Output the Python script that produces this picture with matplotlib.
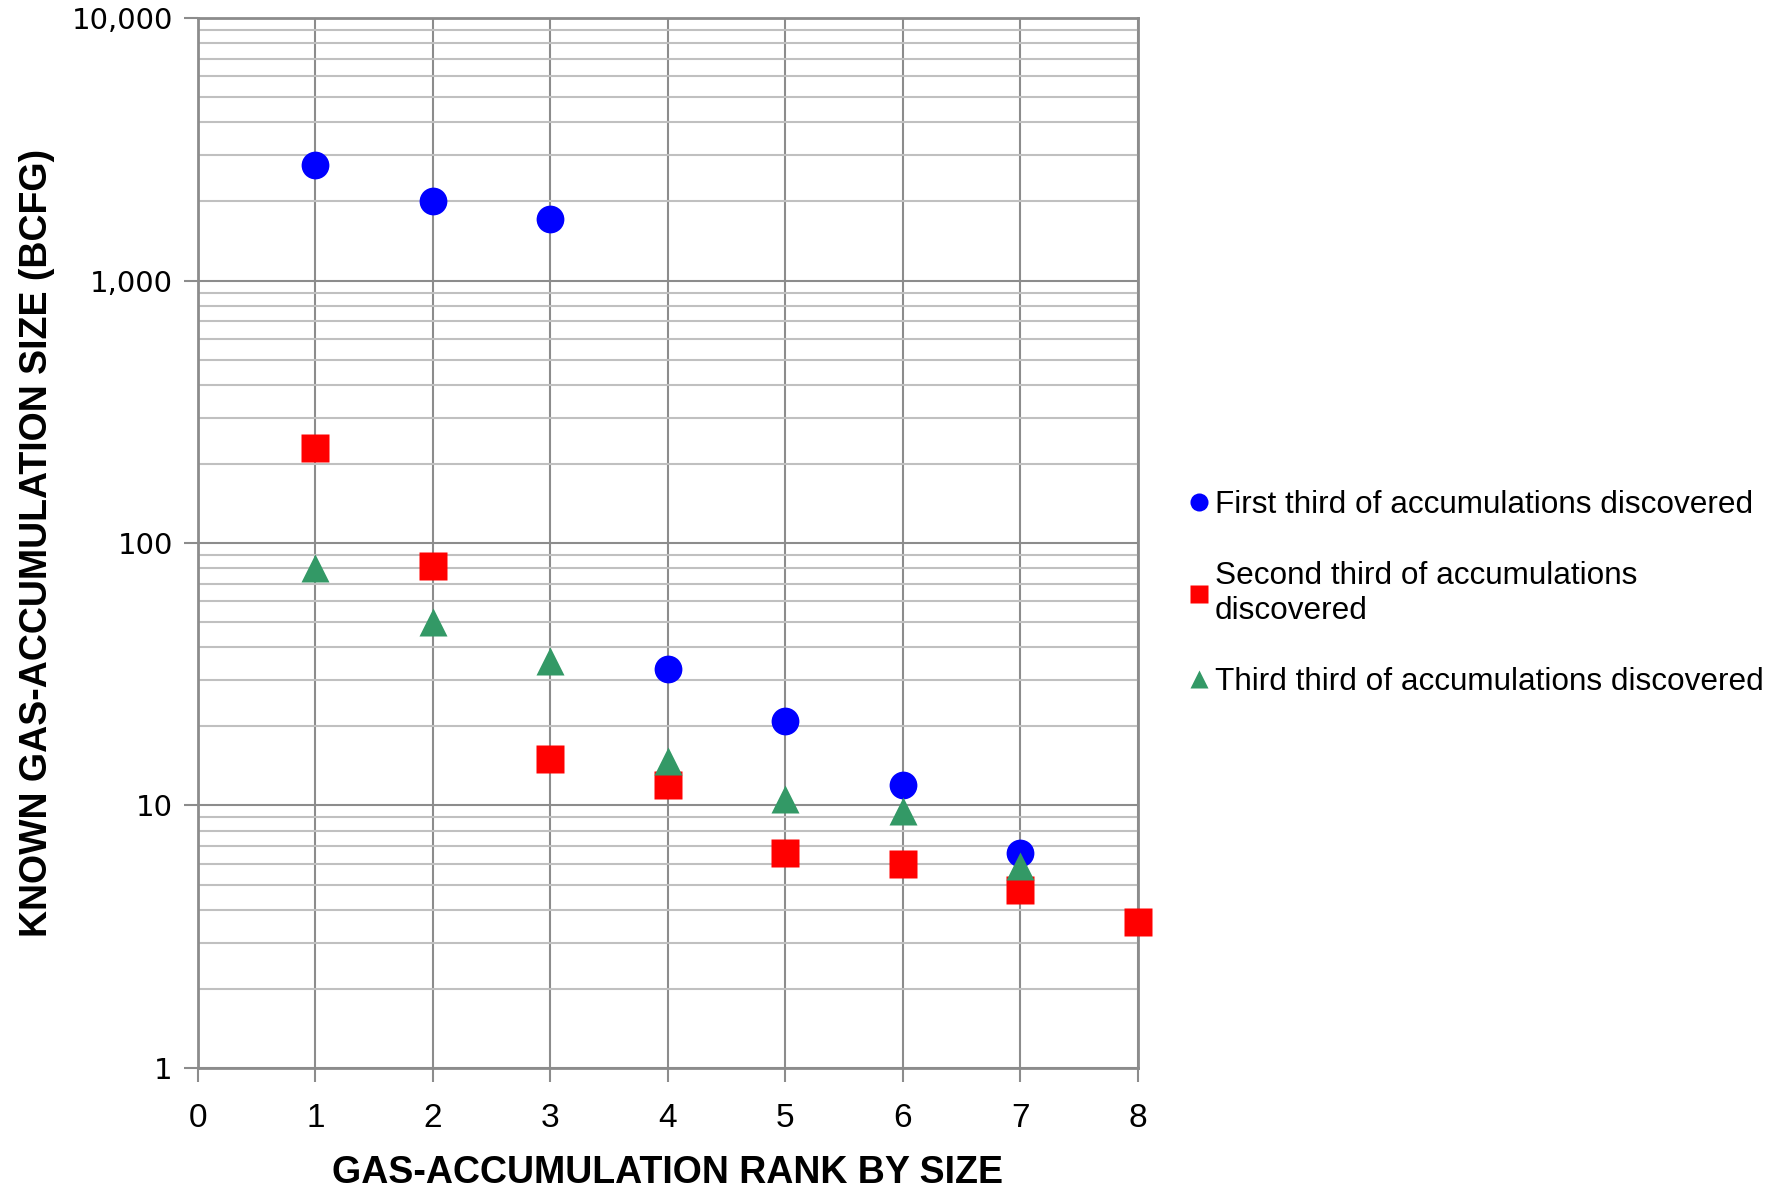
import numpy as np
import matplotlib.pyplot as plt
from matplotlib.ticker import FixedLocator, FuncFormatter, LogLocator, NullFormatter

# rang dos acumulos e tamanhos (BCFG)
rank_first = [1, 2, 3, 4, 5, 6, 7]
size_first = [2750, 2000, 1720, 33, 21, 12, 6.6]

rank_second = [1, 2, 3, 4, 5, 6, 7, 8]
size_second = [231, 82, 15.1, 12, 6.6, 6.0, 4.75, 3.6]

rank_third = [1, 2, 3, 4, 5, 6, 7]
size_third = [80, 50, 35.5, 14.8, 10.6, 9.5, 5.9]

labels = ['First third of accumulations discovered',
          'Second third of accumulations\ndiscovered',
          'Third third of accumulations discovered']

plt.rcParams['font.family'] = ['Liberation Sans', 'DejaVu Sans']

fig = plt.figure(figsize=(17.75, 11.93), dpi=100)
ax = fig.add_axes([0.1115, 0.1048, 0.5296, 0.8801])

ax.plot(rank_first, size_first, 'o', ms=20, color='#0000FF', mec='none', label=labels[0], zorder=5, clip_on=False)
ax.plot(rank_second, size_second, 's', ms=20, color='#FF0000', mec='none', label=labels[1], zorder=4, clip_on=False)
ax.plot(rank_third, size_third, '^', ms=20, color='#339966', mec='none', label=labels[2], zorder=6, clip_on=False)

ax.set_yscale('log')
ax.set_ylim(1, 10000)
ax.set_xlim(0, 8)
ax.xaxis.set_major_locator(FixedLocator(range(0, 9)))
ax.yaxis.set_major_locator(FixedLocator([1, 10, 100, 1000, 10000]))
ax.yaxis.set_minor_locator(LogLocator(base=10, subs=np.arange(2, 10)))
ax.yaxis.set_minor_formatter(NullFormatter())
ax.yaxis.set_major_formatter(FuncFormatter(lambda v, p: '{:,.0f}'.format(v)))

ax.grid(True, which='major', color='#8c8c8c', lw=1.5)
ax.grid(True, which='minor', axis='y', color='#c0c0c0', lw=1.5)
ax.set_axisbelow(True)
for s in ax.spines.values():
    s.set_color('#8c8c8c')
    s.set_linewidth(2)

ax.tick_params(axis='both', which='major', direction='out', length=10, width=1.5, color='#8c8c8c', pad=8)
ax.tick_params(axis='y', which='minor', length=0)
ax.tick_params(axis='x', labelsize=24, pad=15)
for t in ax.get_yticklabels():
    t.set_family('DejaVu Sans')
    t.set_fontsize(21)

ax.set_xlabel('GAS-ACCUMULATION RANK BY SIZE', fontsize=27, fontweight='bold', labelpad=15)
ax.set_ylabel('KNOWN GAS-ACCUMULATION SIZE (BCFG)', fontsize=27, fontweight='bold')
ax.yaxis.set_label_coords(-0.152, 0.5)

leg = ax.legend(loc='center left', bbox_to_anchor=(1.018, 0.452), frameon=False, fontsize=22.7,
                handletextpad=0.0, handlelength=1.0, labelspacing=1.3, markerscale=0.65)

plt.savefig('out.png')
